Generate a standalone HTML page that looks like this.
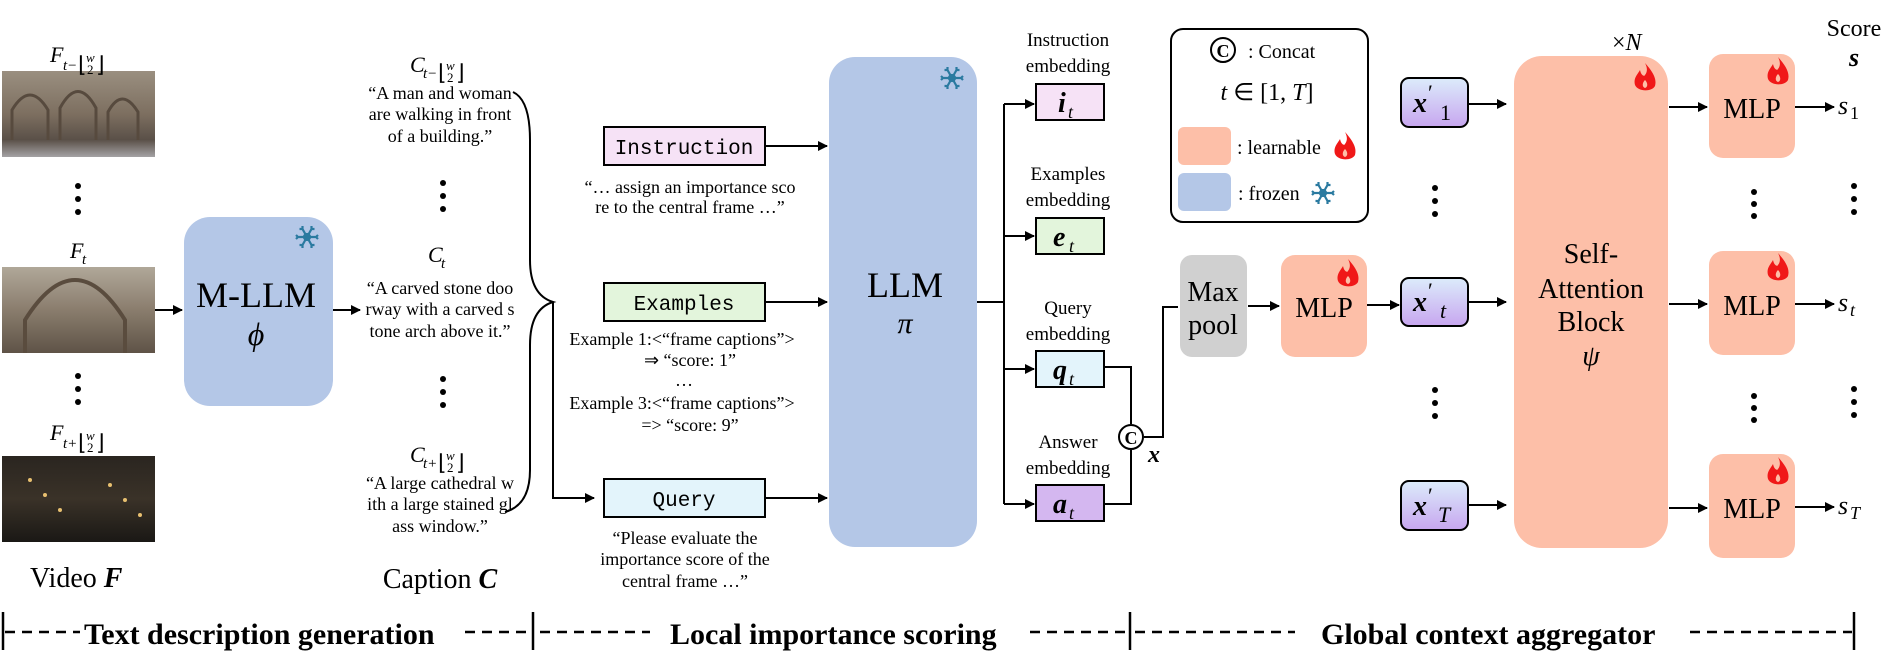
<!DOCTYPE html>
<html><head><meta charset="utf-8"><style>
html,body{margin:0;padding:0;background:#fff;}
svg{display:block;}
text{font-family:"Liberation Serif",serif;fill:#000;}
.m{font-family:"Liberation Mono",monospace;}
</style></head><body>
<svg width="1903" height="672" viewBox="0 0 1903 672" xmlns="http://www.w3.org/2000/svg">
<defs>
<marker id="ar" markerWidth="10" markerHeight="10" refX="9" refY="5" orient="auto" markerUnits="userSpaceOnUse">
<path d="M0,0 L10,5 L0,10 Z" fill="#000"/></marker>
<linearGradient id="xg" x1="0" y1="0" x2="0" y2="1"><stop offset="0" stop-color="#dcecfb"/><stop offset="1" stop-color="#c7a6ef"/></linearGradient>
<linearGradient id="im1" x1="0" y1="0" x2="0" y2="1"><stop offset="0" stop-color="#9a8f80"/><stop offset="0.5" stop-color="#7d6f60"/><stop offset="0.8" stop-color="#5a5048"/><stop offset="1" stop-color="#a4a2a4"/></linearGradient>
<linearGradient id="im2" x1="0" y1="0" x2="0" y2="1"><stop offset="0" stop-color="#b0a899"/><stop offset="0.5" stop-color="#8a7d6d"/><stop offset="1" stop-color="#5f5347"/></linearGradient>
<linearGradient id="im3" x1="0" y1="0" x2="0" y2="1"><stop offset="0" stop-color="#2a2520"/><stop offset="0.5" stop-color="#3a3228"/><stop offset="1" stop-color="#1a1815"/></linearGradient>
<g id="flame"><path d="M0,-15 C8,-6 12,1 10,8 C7,14 -7,14 -10,7 C-12,0 -7,-4 -5,-8 C-4,-3 -1,-1 0,-3 C3,-7 2,-11 0,-15 Z" fill="#f01818"/><path d="M0,2 C3,5 3,9 0,10 C-3,9 -3,5 0,2Z" fill="#fdbfa8"/></g>
<g id="snow" stroke="#2a7aa0" stroke-width="2.2" fill="none"><path d="M-9,0 H9 M-4.5,-8 L4.5,8 M4.5,-8 L-4.5,8 M-9,0 l-2,-2 M-9,0 l-2,2 M9,0 l2,-2 M9,0 l2,2 M-4.5,-8 l0,-3 M-4.5,-8 l-3,0 M4.5,8 l0,3 M4.5,8 l3,0 M4.5,-8 l0,-3 M4.5,-8 l3,0 M-4.5,8 l0,3 M-4.5,8 l-3,0"/><circle r="3" fill="#2a7aa0"/></g>
</defs>

<!-- frames -->
<rect x="2" y="71" width="153" height="86" fill="url(#im1)"/>
<path d="M12,140 V110 Q30,80 48,110 V140 M60,140 V108 Q78,75 96,108 V140 M108,140 V112 Q122,86 138,112 V140" stroke="#574a3e" stroke-width="3" fill="none"/>
<rect x="2" y="267" width="153" height="86" fill="url(#im2)"/>
<path d="M25,353 V320 Q75,240 125,320 V353" stroke="#5a4c3e" stroke-width="4" fill="none"/>
<rect x="2" y="456" width="153" height="86" fill="url(#im3)"/>
<g fill="#e8c070"><circle cx="30" cy="480" r="2"/><circle cx="45" cy="495" r="2"/><circle cx="60" cy="510" r="2"/><circle cx="110" cy="485" r="2"/><circle cx="125" cy="500" r="2"/><circle cx="140" cy="515" r="2"/></g>
<text x="50" y="62" font-size="22" font-style="italic">F</text><text x="63" y="70" font-size="15" font-style="italic">t−</text><text x="78" y="72" font-size="22">⌊</text><text x="86" y="62" font-size="13" font-style="italic">w</text><text x="87" y="74" font-size="13">2</text><text x="96" y="72" font-size="22">⌋</text>
<text x="70" y="258" font-size="22" font-style="italic">F</text><text x="82" y="264" font-size="15" font-style="italic">t</text>
<text x="50" y="440" font-size="22" font-style="italic">F</text><text x="63" y="448" font-size="15" font-style="italic">t+</text><text x="78" y="450" font-size="22">⌊</text><text x="86" y="440" font-size="13" font-style="italic">w</text><text x="87" y="452" font-size="13">2</text><text x="96" y="450" font-size="22">⌋</text>
<g fill="#000"><circle cx="78" cy="186" r="3"/><circle cx="78" cy="199" r="3"/><circle cx="78" cy="212" r="3"/><circle cx="78" cy="376" r="3"/><circle cx="78" cy="389" r="3"/><circle cx="78" cy="402" r="3"/></g>
<text x="30" y="587" font-size="28">Video <tspan font-weight="bold" font-style="italic">F</tspan></text>

<!-- M-LLM -->
<line x1="155" y1="310" x2="182" y2="310" stroke="#000" stroke-width="2" marker-end="url(#ar)"/>
<rect x="184" y="217" width="149" height="189" rx="26" fill="#b4c7e7"/>
<use href="#snow" x="307" y="237"/>
<text x="256" y="307" font-size="36" text-anchor="middle">M-LLM</text>
<text x="256" y="345" font-size="32" text-anchor="middle" font-style="italic">ϕ</text>
<line x1="333" y1="310" x2="360" y2="310" stroke="#000" stroke-width="2" marker-end="url(#ar)"/>

<!-- captions -->
<g font-size="18" text-anchor="middle">
<text x="440" y="99">“A man and woman</text><text x="440" y="120">are walking in front</text><text x="440" y="142">of a building.”</text>
<text x="440" y="294">“A carved stone doo</text><text x="440" y="315">rway with a carved s</text><text x="440" y="337">tone arch above it.”</text>
<text x="440" y="489">“A large cathedral w</text><text x="440" y="510">ith a large stained gl</text><text x="440" y="532">ass window.”</text>
</g>
<text x="410" y="72" font-size="22" font-style="italic">C</text><text x="423" y="78" font-size="15" font-style="italic">t−</text><text x="438" y="80" font-size="22">⌊</text><text x="446" y="70" font-size="13" font-style="italic">w</text><text x="447" y="82" font-size="13">2</text><text x="456" y="80" font-size="22">⌋</text>
<text x="428" y="262" font-size="22" font-style="italic">C</text><text x="441" y="268" font-size="15" font-style="italic">t</text>
<text x="410" y="462" font-size="22" font-style="italic">C</text><text x="423" y="468" font-size="15" font-style="italic">t+</text><text x="438" y="470" font-size="22">⌊</text><text x="446" y="460" font-size="13" font-style="italic">w</text><text x="447" y="472" font-size="13">2</text><text x="456" y="470" font-size="22">⌋</text>
<g fill="#000"><circle cx="443" cy="183" r="3"/><circle cx="443" cy="196" r="3"/><circle cx="443" cy="209" r="3"/><circle cx="443" cy="379" r="3"/><circle cx="443" cy="392" r="3"/><circle cx="443" cy="405" r="3"/></g>
<text x="440" y="588" font-size="28" text-anchor="middle">Caption <tspan font-weight="bold" font-style="italic">C</tspan></text>

<!-- brace -->
<path d="M513,92 Q530,100 530,140 V260 Q530,295 553,302 Q530,309 530,345 V470 Q530,505 505,512" stroke="#000" stroke-width="2" fill="none"/>
<path d="M553,302 V498 H594" stroke="#000" stroke-width="2" fill="none" marker-end="url(#ar)"/>

<!-- prompt boxes -->
<rect x="604" y="127" width="161" height="38" fill="#f6e2f6" stroke="#000" stroke-width="2"/>
<text class="m" x="684" y="154" font-size="21" text-anchor="middle">Instruction</text>
<rect x="604" y="283" width="161" height="38" fill="#e3f5dc" stroke="#000" stroke-width="2"/>
<text class="m" x="684" y="310" font-size="21" text-anchor="middle">Examples</text>
<rect x="604" y="479" width="161" height="38" fill="#e3f4fb" stroke="#000" stroke-width="2"/>
<text class="m" x="684" y="506" font-size="21" text-anchor="middle">Query</text>
<line x1="765" y1="146" x2="827" y2="146" stroke="#000" stroke-width="2" marker-end="url(#ar)"/>
<line x1="765" y1="302" x2="827" y2="302" stroke="#000" stroke-width="2" marker-end="url(#ar)"/>
<line x1="765" y1="498" x2="827" y2="498" stroke="#000" stroke-width="2" marker-end="url(#ar)"/>
<g font-size="18" text-anchor="middle">
<text x="690" y="193">“…  assign an importance sco</text><text x="690" y="213">re to the central frame …”</text>
<text x="682" y="345">Example 1:&lt;“frame captions”&gt;</text><text x="690" y="366">⇒ “score: 1”</text><text x="684" y="386">…</text>
<text x="682" y="409">Example 3:&lt;“frame captions”&gt;</text><text x="690" y="431">=&gt; “score: 9”</text>
<text x="685" y="544">“Please evaluate the</text><text x="685" y="565">importance score of the</text><text x="685" y="587">central frame …”</text>
</g>

<!-- LLM -->
<rect x="829" y="57" width="148" height="490" rx="26" fill="#b4c7e7"/>
<use href="#snow" x="952" y="78"/>
<text x="905" y="297" font-size="36" text-anchor="middle">LLM</text>
<text x="905" y="333" font-size="30" text-anchor="middle" font-style="italic">π</text>

<!-- embeddings -->
<path d="M977,302 H1004 M1004,104 V504" stroke="#000" stroke-width="2" fill="none"/>
<g stroke="#000" stroke-width="2">
<line x1="1004" y1="104" x2="1034" y2="104" marker-end="url(#ar)"/>
<line x1="1004" y1="236" x2="1034" y2="236" marker-end="url(#ar)"/>
<line x1="1004" y1="369" x2="1034" y2="369" marker-end="url(#ar)"/>
<line x1="1004" y1="504" x2="1034" y2="504" marker-end="url(#ar)"/>
</g>
<rect x="1036" y="84" width="68" height="36" fill="#f6e2f6" stroke="#000" stroke-width="2"/>
<rect x="1036" y="218" width="68" height="36" fill="#e3f5dc" stroke="#000" stroke-width="2"/>
<rect x="1036" y="351" width="68" height="36" fill="#e3f4fb" stroke="#000" stroke-width="2"/>
<rect x="1036" y="485" width="68" height="36" fill="#d4b7f0" stroke="#000" stroke-width="2"/>
<g font-size="28" font-weight="bold" font-style="italic"><text x="1058" y="112">i</text><text x="1053" y="246">e</text><text x="1053" y="379">q</text><text x="1053" y="513">a</text></g>
<g font-size="18" font-style="italic"><text x="1068" y="118">t</text><text x="1069" y="252">t</text><text x="1069" y="385">t</text><text x="1069" y="519">t</text></g>
<g font-size="19" text-anchor="middle">
<text x="1068" y="46">Instruction</text><text x="1068" y="72">embedding</text>
<text x="1068" y="180">Examples</text><text x="1068" y="206">embedding</text>
<text x="1068" y="314">Query</text><text x="1068" y="340">embedding</text>
<text x="1068" y="448">Answer</text><text x="1068" y="474">embedding</text>
</g>
<path d="M1104,367 H1131 V424 M1104,504 H1131 V450 M1144,437 H1163 V307 H1178" stroke="#000" stroke-width="2" fill="none"/>
<circle cx="1131" cy="437" r="12" fill="#fff" stroke="#000" stroke-width="2"/>
<text x="1131" y="444" font-size="18" font-weight="bold" text-anchor="middle" font-family="Liberation Sans,sans-serif">C</text>
<text x="1148" y="462" font-size="24" font-weight="bold" font-style="italic">x</text>

<!-- legend -->
<rect x="1171" y="29" width="197" height="193" rx="12" fill="#fff" stroke="#000" stroke-width="2"/>
<circle cx="1223" cy="50" r="12" fill="#fff" stroke="#000" stroke-width="2"/>
<text x="1223" y="57" font-size="18" font-weight="bold" text-anchor="middle" font-family="Liberation Sans,sans-serif">C</text>
<text x="1248" y="58" font-size="20">: Concat</text>
<text x="1267" y="100" font-size="24" text-anchor="middle"><tspan font-style="italic">t</tspan> ∈ [1, <tspan font-style="italic">T</tspan>]</text>
<rect x="1178" y="127" width="53" height="38" rx="6" fill="#fdbfa8"/>
<rect x="1178" y="173" width="53" height="38" rx="6" fill="#b4c7e7"/>
<text x="1237" y="154" font-size="20">: learnable</text>
<use href="#flame" x="1345" y="147"/>
<text x="1238" y="200" font-size="20">: frozen</text>
<use href="#snow" x="1323" y="193"/>

<!-- max pool / MLP -->
<rect x="1180" y="255" width="67" height="102" rx="12" fill="#d0d0d0"/>
<text x="1213" y="301" font-size="28" text-anchor="middle">Max</text>
<text x="1213" y="334" font-size="28" text-anchor="middle">pool</text>
<line x1="1248" y1="306" x2="1279" y2="306" stroke="#000" stroke-width="2" marker-end="url(#ar)"/>
<rect x="1281" y="255" width="86" height="102" rx="14" fill="#fdbfa8"/>
<use href="#flame" x="1348" y="274"/>
<text x="1324" y="317" font-size="28" text-anchor="middle">MLP</text>
<line x1="1367" y1="305" x2="1399" y2="305" stroke="#000" stroke-width="2" marker-end="url(#ar)"/>

<!-- x' boxes -->
<rect x="1401" y="78" width="67" height="49" rx="8" fill="url(#xg)" stroke="#000" stroke-width="2"/>
<rect x="1401" y="278" width="67" height="48" rx="8" fill="url(#xg)" stroke="#000" stroke-width="2"/>
<rect x="1401" y="481" width="67" height="49" rx="8" fill="url(#xg)" stroke="#000" stroke-width="2"/>
<g font-size="28" font-weight="bold" font-style="italic"><text x="1413" y="112">x</text><text x="1413" y="311">x</text><text x="1413" y="515">x</text></g>
<g font-size="22"><text x="1428" y="100">′</text><text x="1428" y="298">′</text><text x="1428" y="503">′</text></g>
<g font-size="22"><text x="1440" y="120">1</text><text x="1440" y="318" font-style="italic">t</text><text x="1438" y="522" font-style="italic">T</text></g>
<g fill="#000"><circle cx="1435" cy="188" r="3"/><circle cx="1435" cy="201" r="3"/><circle cx="1435" cy="214" r="3"/><circle cx="1435" cy="390" r="3"/><circle cx="1435" cy="403" r="3"/><circle cx="1435" cy="416" r="3"/></g>
<g stroke="#000" stroke-width="2">
<line x1="1468" y1="104" x2="1506" y2="104" marker-end="url(#ar)"/>
<line x1="1468" y1="302" x2="1506" y2="302" marker-end="url(#ar)"/>
<line x1="1468" y1="505" x2="1506" y2="505" marker-end="url(#ar)"/>
</g>

<!-- self attention -->
<rect x="1514" y="56" width="154" height="492" rx="28" fill="#fdbfa8"/>
<use href="#flame" x="1645" y="78"/>
<text x="1612" y="50" font-size="24">×<tspan font-style="italic">N</tspan></text>
<g font-size="28" text-anchor="middle"><text x="1591" y="263">Self-</text><text x="1591" y="298">Attention</text><text x="1591" y="331">Block</text><text x="1591" y="365" font-style="italic">ψ</text></g>
<g stroke="#000" stroke-width="2">
<line x1="1669" y1="107" x2="1707" y2="107" marker-end="url(#ar)"/>
<line x1="1669" y1="304" x2="1707" y2="304" marker-end="url(#ar)"/>
<line x1="1669" y1="508" x2="1707" y2="508" marker-end="url(#ar)"/>
</g>
<rect x="1709" y="54" width="86" height="104" rx="14" fill="#fdbfa8"/>
<rect x="1709" y="251" width="86" height="104" rx="14" fill="#fdbfa8"/>
<rect x="1709" y="454" width="86" height="104" rx="14" fill="#fdbfa8"/>
<use href="#flame" x="1778" y="72"/><use href="#flame" x="1778" y="268"/><use href="#flame" x="1778" y="472"/>
<g font-size="28" text-anchor="middle"><text x="1752" y="118">MLP</text><text x="1752" y="315">MLP</text><text x="1752" y="518">MLP</text></g>
<g stroke="#000" stroke-width="2">
<line x1="1795" y1="107" x2="1834" y2="107" marker-end="url(#ar)"/>
<line x1="1795" y1="304" x2="1834" y2="304" marker-end="url(#ar)"/>
<line x1="1795" y1="507" x2="1834" y2="507" marker-end="url(#ar)"/>
</g>
<g fill="#000"><circle cx="1754" cy="192" r="3"/><circle cx="1754" cy="204" r="3"/><circle cx="1754" cy="216" r="3"/><circle cx="1754" cy="396" r="3"/><circle cx="1754" cy="408" r="3"/><circle cx="1754" cy="420" r="3"/>
<circle cx="1854" cy="186" r="3"/><circle cx="1854" cy="199" r="3"/><circle cx="1854" cy="212" r="3"/><circle cx="1854" cy="389" r="3"/><circle cx="1854" cy="402" r="3"/><circle cx="1854" cy="415" r="3"/></g>
<g font-size="26" font-style="italic"><text x="1838" y="114">s</text><text x="1838" y="311">s</text><text x="1838" y="514">s</text></g>
<g font-size="18"><text x="1850" y="119">1</text><text x="1850" y="316" font-style="italic">t</text><text x="1850" y="519" font-style="italic">T</text></g>
<text x="1854" y="36" font-size="24" text-anchor="middle">Score</text>
<text x="1854" y="66" font-size="26" text-anchor="middle" font-weight="bold" font-style="italic">s</text>

<!-- bottom bar -->
<g stroke="#000" stroke-width="2.5">
<line x1="3" y1="612" x2="3" y2="650"/><line x1="533" y1="612" x2="533" y2="650"/><line x1="1130" y1="612" x2="1130" y2="650"/><line x1="1854" y1="612" x2="1854" y2="650"/>
</g>
<g stroke="#000" stroke-width="2.5" stroke-dasharray="10,7">
<line x1="5" y1="632" x2="80" y2="632"/><line x1="465" y1="632" x2="531" y2="632"/>
<line x1="540" y1="632" x2="650" y2="632"/><line x1="1030" y1="632" x2="1128" y2="632"/>
<line x1="1135" y1="632" x2="1295" y2="632"/><line x1="1690" y1="632" x2="1852" y2="632"/>
</g>
<g font-size="30" font-weight="bold">
<text x="84" y="644">Text description generation</text>
<text x="670" y="644">Local importance scoring</text>
<text x="1321" y="644">Global context aggregator</text>
</g>
</svg>
</body></html>
